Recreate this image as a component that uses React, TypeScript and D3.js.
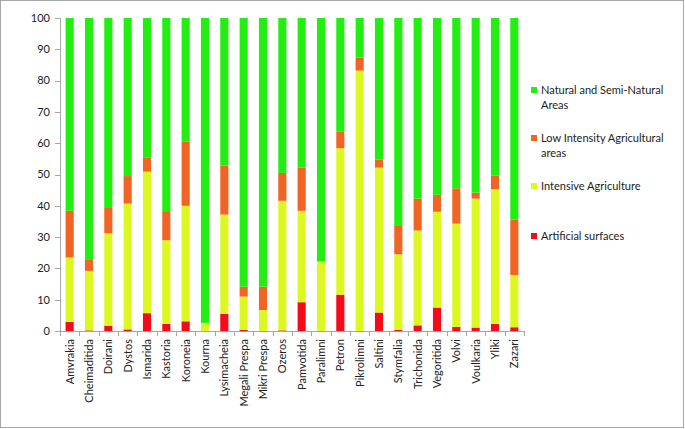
import React from "react";
import * as d3 from "d3";

const categories = ["Amvrakia","Cheimaditida","Doirani","Dystos","Ismarida","Kastoria","Koroneia","Kourna","Lysimacheia","Megali Prespa","Mikri Prespa","Ozeros","Pamvotida","Paralimni","Petron","Pikrolimni","Saltini","Stymfalia","Trichonida","Vegoritida","Volvi","Voulkaria","Yliki","Zazari"];

const artificial = [2.9,0.2,1.7,0.5,5.7,2.3,3.1,0,5.5,0.4,0,0.2,9.2,0,11.6,0,5.9,0.4,1.8,7.5,1.3,1.1,2.3,1.2];
const intensive = [20.6,19.0,29.5,40.2,45.2,26.7,36.9,2.6,31.7,10.6,6.7,41.4,29.2,22.2,46.8,83.2,46.3,24.1,30.3,30.6,33.0,41.2,43.0,16.7];
const lowIntensity = [14.9,3.5,8.1,8.8,4.6,9.3,20.6,0,15.7,3.2,7.5,8.9,13.8,0,5.4,4.2,2.6,9.3,10.2,5.4,11.3,1.9,4.4,17.7];
const natural = categories.map((_, i) => +(100 - artificial[i] - intensive[i] - lowIntensity[i]).toFixed(1));

const yTicks = [0,10,20,30,40,50,60,70,80,90,100];

const seriesKeys = ["artificial","intensive","lowIntensity","natural"];
const seriesColors: Record<string,string> = {
  artificial: "#f60a1a",
  intensive: "#ddf821",
  lowIntensity: "#f26424",
  natural: "#22ee12",
};
const legendItems = [
  { key: "natural", lines: ["Natural and Semi-Natural", "Areas"] },
  { key: "lowIntensity", lines: ["Low Intensity Agricultural", "areas"] },
  { key: "intensive", lines: ["Intensive Agriculture"] },
  { key: "artificial", lines: ["Artificial surfaces"] },
];

export default function App() {
  const W = 685, H = 429;
  const left = 60, right = 524, top = 18, bottom = 331;
  const x = d3.scaleBand<string>().domain(categories).range([left, right]).paddingInner(0.58).paddingOuter(0.29);
  const y = d3.scaleLinear().domain([0, 100]).range([bottom, top]);
  const rows = categories.map((c, i) => ({
    cat: c,
    artificial: artificial[i],
    intensive: intensive[i],
    lowIntensity: lowIntensity[i],
    natural: natural[i],
  }));
  const stacked = d3.stack<any>().keys(seriesKeys)(rows);
  const step = x.step();
  const font = "Lato, 'Open Sans', sans-serif";
  const legendY = [90, 138, 186, 236];
  const axisColor = "#a6a6a6";

  return (
    <div style={{ position: "fixed", left: 0, top: 0 }}>
      <svg width={W} height={H} style={{ display: "block", background: "#fff" }}>
        <rect x={0.5} y={0.5} width={W - 2} height={H - 2} fill="#fff" stroke="#a6a6a6" />
        {stacked.map((s) => (
          <g key={s.key}>
            {s.map((d, i) => {
              const h = y(d[0]) - y(d[1]);
              if (h <= 0) return null;
              return (
                <rect key={i} x={x(categories[i])} width={x.bandwidth()} y={y(d[1])} height={h} fill={seriesColors[s.key]} />
              );
            })}
          </g>
        ))}
        {/* y axis */}
        <line x1={left + 0.5} x2={left + 0.5} y1={top} y2={bottom} stroke={axisColor} />
        {yTicks.map((t) => (
          <g key={t}>
            <line x1={left - 5} x2={left} y1={Math.round(y(t)) + 0.5} y2={Math.round(y(t)) + 0.5} stroke={axisColor} />
            <text x={left - 10} y={y(t)} dy="0.35em" textAnchor="end" fontSize={11} fontFamily={font} fill="#222">{t}</text>
          </g>
        ))}
        {/* x axis */}
        <line x1={left} x2={right} y1={bottom + 0.5} y2={bottom + 0.5} stroke={axisColor} />
        {categories.map((c, i) => (
          <line key={"t" + i} x1={Math.round(left + i * step) + 0.5} x2={Math.round(left + i * step) + 0.5} y1={bottom} y2={bottom + 5} stroke={axisColor} />
        ))}
        <line x1={right + 0.5} x2={right + 0.5} y1={bottom} y2={bottom + 5} stroke={axisColor} />
        {categories.map((c) => {
          const cx = (x(c) as number) + x.bandwidth() / 2 + 4;
          return (
            <text key={c} transform={`translate(${cx},${bottom + 8}) rotate(-90)`} textAnchor="end" fontSize={11} fontFamily={font} fill="#222">{c}</text>
          );
        })}
        {/* legend */}
        {legendItems.map((it, i) => (
          <g key={it.key}>
            <rect x={531} y={legendY[i] - 3} width={6} height={6} fill={seriesColors[it.key]} />
            {it.lines.map((ln, j) => (
              <text key={j} x={541} y={legendY[i] + j * 15.5} dy="0.35em" fontSize={11} fontFamily={font} fill="#222">{ln}</text>
            ))}
          </g>
        ))}
      </svg>
    </div>
  );
}
